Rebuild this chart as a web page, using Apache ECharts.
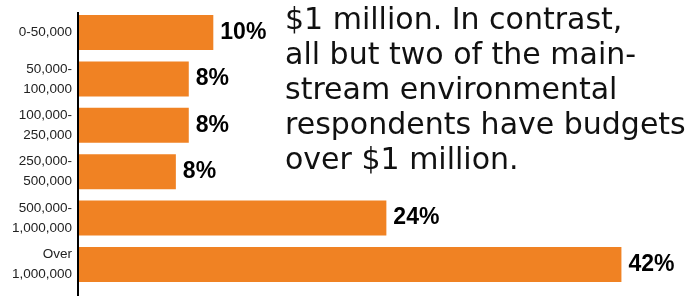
<!DOCTYPE html>
<html>
<head>
<meta charset="utf-8">
<script src="https://cdn.jsdelivr.net/npm/echarts@6/dist/echarts.min.js"></script>
<style>
  html, body { margin: 0; padding: 0; background: #fff; }
  #container { width: 699px; height: 296px; }
</style>
</head>
<body>
<div id="container"></div>
<script>
var categories = ['0-50,000', '50,000-\n100,000', '100,000-\n250,000', '250,000-\n500,000', '500,000-\n1,000,000', 'Over\n1,000,000'];
var barValues = [10.4, 8.5, 8.5, 7.5, 23.8, 42];
var valueLabels = ['10%', '8%', '8%', '8%', '24%', '42%'];
var noteLines = ['$1 million. In contrast,', 'all but two of the main-', 'stream environmental', 'respondents have budgets', 'over $1 million.'];

var dom = document.getElementById('container');
var myChart = echarts.init(dom);

var option = {
    animation: false,
    grid: { left: 79, right: 13, top: 9.3, bottom: 8.3, containLabel: false },
    xAxis: {
        type: 'value', min: 0, max: 47, show: false
    },
    yAxis: {
        type: 'category',
        inverse: true,
        data: categories,
        axisLine: { show: false },
        axisTick: { show: false },
        axisLabel: {
            margin: 7,
            fontFamily: '"Liberation Sans", Arial, sans-serif',
            fontSize: 13.5,
            lineHeight: 20,
            color: '#222'
        }
    },
    series: [{
        type: 'bar',
        data: barValues,
        barWidth: 35,
        itemStyle: { color: '#f08223' },
        label: {
            show: true,
            position: 'right',
            distance: 7,
            formatter: function (p) { return valueLabels[p.dataIndex]; },
            fontFamily: '"Liberation Sans", Arial, sans-serif',
            fontWeight: 'bold',
            fontSize: 23,
            color: '#000'
        }
    }],
    graphic: [
        {
            type: 'line',
            shape: { x1: 78, y1: 12, x2: 78, y2: 296 },
            style: { stroke: '#000', lineWidth: 2 }
        },
        {
            type: 'text',
            left: 285,
            top: 4,
            style: {
                text: noteLines.join('\n'),
                font: '30px "DejaVu Sans", sans-serif',
                lineHeight: 35,
                fill: '#111'
            }
        }
    ]
};
myChart.setOption(option);
</script>
</body>
</html>
